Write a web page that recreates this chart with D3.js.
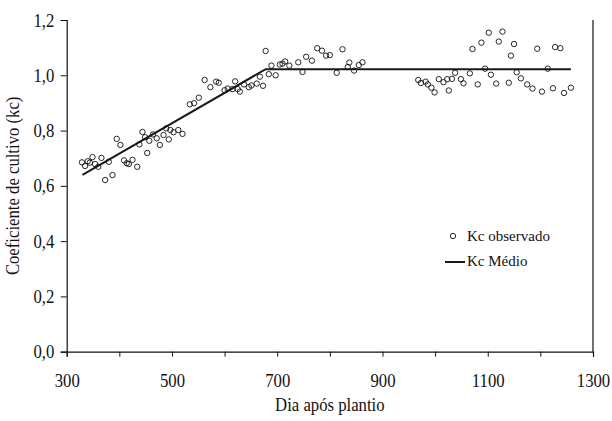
<!DOCTYPE html>
<html>
<head>
<meta charset="utf-8">
<script src="https://cdn.jsdelivr.net/npm/d3@7"></script>
<style>
  body { margin: 0; background: #fff; }
  svg { display: block; }
  text { font-family: "Liberation Serif", "Times New Roman", serif; fill: #111; }
</style>
</head>
<body>
<svg id="chart" width="612" height="421"></svg>
<script>
// observed Kc (dia apos plantio, kc)
var obsDay = [329, 335, 340, 344, 349, 354, 360, 366, 373, 380, 387, 395, 402, 409, 414, 418, 425, 434, 438, 444,
	449, 453, 457, 464, 471, 477, 484, 489, 494, 497, 503, 512, 520, 534, 542, 551, 562, 573, 584, 589,
	600, 606, 615, 620, 625, 629, 637, 646, 651, 661, 667, 673, 678, 684, 689, 697, 705, 710, 715, 723,
	740, 748, 755, 766, 776, 785, 793, 800, 813, 824, 834, 837, 846, 855, 862,
	968, 973, 982, 986, 993, 999, 1007, 1016, 1023, 1026, 1032, 1038, 1049, 1054, 1066, 1071, 1081, 1088, 1095,
	1102, 1106, 1116, 1121, 1128, 1140, 1144, 1150, 1155, 1163, 1175, 1185, 1194, 1203, 1214, 1224, 1228, 1238, 1245, 1258];
var obsKc = [0.685, 0.672, 0.689, 0.684, 0.704, 0.679, 0.669, 0.701, 0.621, 0.687, 0.639, 0.770, 0.748, 0.692, 0.682, 0.679, 0.694, 0.669, 0.750, 0.795,
	0.776, 0.719, 0.763, 0.786, 0.772, 0.748, 0.784, 0.808, 0.768, 0.802, 0.794, 0.802, 0.788, 0.895, 0.899, 0.919, 0.983, 0.957, 0.977, 0.973,
	0.946, 0.952, 0.950, 0.978, 0.950, 0.941, 0.967, 0.957, 0.963, 0.970, 0.995, 0.962, 1.088, 1.004, 1.035, 1.000, 1.039, 1.042, 1.050, 1.035,
	1.047, 1.012, 1.067, 1.053, 1.098, 1.089, 1.071, 1.073, 1.009, 1.094, 1.030, 1.046, 1.017, 1.037, 1.047,
	0.983, 0.972, 0.977, 0.967, 0.955, 0.938, 0.986, 0.975, 0.986, 0.945, 0.987, 1.009, 0.986, 0.971, 1.007, 1.095, 0.967, 1.118, 1.024,
	1.154, 1.002, 0.970, 1.122, 1.158, 0.973, 1.071, 1.113, 1.011, 0.989, 0.967, 0.952, 1.096, 0.941, 1.024, 0.953, 1.102, 1.098, 0.936, 0.955];

// Kc medio (segmented line)
var lineDay = [330, 678, 1258];
var lineKc = [0.64, 1.022, 1.022];

var xTicks = [300, 400, 500, 600, 700, 800, 900, 1000, 1100, 1200, 1300];
var xLabels = [300, 500, 700, 900, 1100, 1300];
var yTicks = [0, 0.2, 0.4, 0.6, 0.8, 1.0, 1.2];

var plotLeft = 66.7, plotRight = 593, plotTop = 20, plotBottom = 351.7,
	squeeze = 'scale(0.88,1)';

var svg = d3.select('#chart');

var x = d3.scaleLinear().domain([300, 1300]).range([plotLeft, plotRight]);
var y = d3.scaleLinear().domain([0, 1.2]).range([plotBottom, plotTop]);
var comma = function (d) { return d3.format('.1f')(d).replace('.', ','); };

// bottom axis: ticks every 100, labels every 200
var gx = svg.append('g')
	.attr('transform', 'translate(0,' + plotBottom + ')')
	.call(d3.axisBottom(x).tickValues(xTicks).tickSizeOuter(0).tickSize(5)
		.tickFormat(function (d) { return xLabels.indexOf(d) >= 0 ? d : ''; }));
gx.select('.domain').attr('stroke', '#111').attr('stroke-width', 1.2);
gx.selectAll('.tick line').attr('stroke', '#111');
gx.selectAll('.tick text')
	.attr('y', 35).attr('dy', 0).attr('transform', squeeze)
	.style('font-size', '19px').style('font-family', '"Liberation Serif", serif').attr('fill', '#111');

var gy = svg.append('g')
	.attr('transform', 'translate(' + plotLeft + ',0)')
	.call(d3.axisLeft(y).tickValues(yTicks).tickSizeOuter(0).tickSize(6).tickFormat(comma));
gy.select('.domain').attr('stroke', '#111').attr('stroke-width', 1.2);
gy.selectAll('.tick line').attr('stroke', '#111');
gy.selectAll('.tick text')
	.attr('x', -14).attr('transform', squeeze)
	.style('font-size', '19px').style('font-family', '"Liberation Serif", serif').attr('fill', '#111');

// right frame line
svg.append('line')
	.attr('x1', x(1300)).attr('x2', x(1300))
	.attr('y1', y(1.2)).attr('y2', y(0))
	.attr('stroke', '#111').attr('stroke-width', 1.2);

// Kc medio line
var line = d3.line()
	.x(function (d) { return x(d[0]); })
	.y(function (d) { return y(d[1]); });
svg.append('path')
	.datum(d3.zip(lineDay, lineKc))
	.attr('d', line)
	.attr('fill', 'none')
	.attr('stroke', '#1a1a1a')
	.attr('stroke-width', 2);

// observed points
svg.append('g').selectAll('circle')
	.data(d3.zip(obsDay, obsKc))
	.enter().append('circle')
	.attr('cx', function (d) { return x(d[0]); })
	.attr('cy', function (d) { return y(d[1]); })
	.attr('r', 2.7)
	.attr('fill', 'none')
	.attr('stroke', '#111')
	.attr('stroke-width', 0.9);

// axis titles
svg.append('text')
	.attr('transform', 'translate(' + (plotLeft + plotRight) / 2 + ',411) ' + squeeze)
	.attr('text-anchor', 'middle')
	.style('font-size', '19px')
	.text('Dia após plantio');

svg.append('text')
	.attr('transform', 'translate(19,' + (plotTop + plotBottom) / 2 + ') rotate(-90) ' + squeeze)
	.attr('text-anchor', 'middle')
	.style('font-size', '19px')
	.text('Coeficiente de cultivo (kc)');

// legend
var legend = svg.append('g').attr('transform', 'translate(445,236)');
legend.append('circle')
	.attr('cx', 8).attr('cy', 0).attr('r', 2.7)
	.attr('fill', 'none').attr('stroke', '#111').attr('stroke-width', 0.9);
legend.append('text')
	.attr('x', 22).attr('y', 5)
	.style('font-size', '15px')
	.text('Kc observado');
legend.append('line')
	.attr('x1', 0).attr('x2', 20).attr('y1', 26).attr('y2', 26)
	.attr('stroke', '#1a1a1a').attr('stroke-width', 2);
legend.append('text')
	.attr('x', 22).attr('y', 30)
	.style('font-size', '15px')
	.text('Kc Médio');
</script>
</body>
</html>
